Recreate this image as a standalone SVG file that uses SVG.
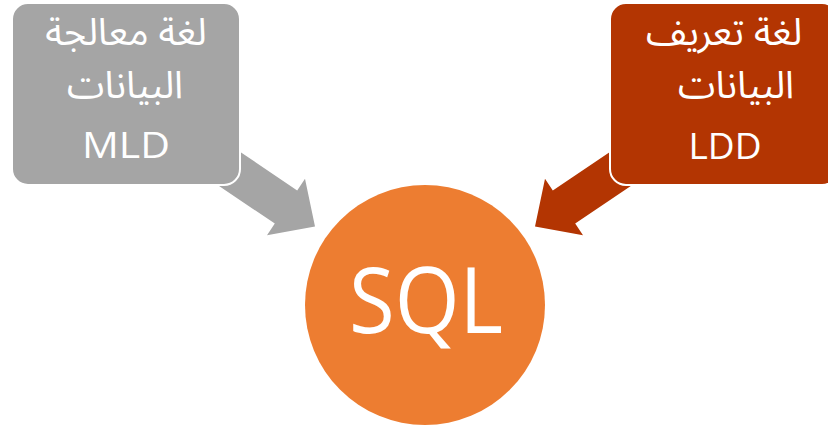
<svg xmlns="http://www.w3.org/2000/svg" width="828" height="425" viewBox="0 0 828 425">
<style>
.box{stroke:#FFFFFF;stroke-width:2}
.t{fill:#FFFFFF;text-anchor:middle}
.ar{font-family:"Noto Sans Arabic","DejaVu Sans",sans-serif;font-size:38px}
.lat{font-family:"Open Sans","Liberation Sans",sans-serif}
</style>
<rect width="828" height="425" fill="#FFFFFF"/>
<g id="connectors">
<polygon fill="#A5A5A5" points="206,128.9 297.2,190.4 305,178.8 315,226.6 267,235.2 274.8,223.6 183.6,162.1"/>
<polygon fill="#B33502" points="644,128.9 552.8,190.4 545,178.8 535,226.6 583,235.2 575.2,223.6 666.4,162.1"/>
</g>
<g id="mld">
<rect class="box" x="12" y="3" width="228" height="182" rx="16" fill="#A5A5A5"/>
<text class="t ar" x="126" y="45" direction="rtl">لغة معالجة</text>
<text class="t ar" x="125" y="98" direction="rtl">البيانات</text>
<text class="t lat" x="126" y="158" font-size="37" textLength="88" lengthAdjust="spacingAndGlyphs">MLD</text>
</g>
<g id="ldd">
<rect class="box" x="610" y="3" width="228" height="182" rx="16" fill="#B33502"/>
<text class="t ar" x="724" y="45" direction="rtl">لغة تعريف</text>
<text class="t ar" x="736" y="98" direction="rtl">البيانات</text>
<text class="t lat" x="725" y="159" font-size="37">LDD</text>
</g>
<g id="sql">
<circle cx="425" cy="305" r="120" fill="#ED7D31"/>
<text class="t lat" x="426" y="333" font-size="91" textLength="154" lengthAdjust="spacingAndGlyphs">SQL</text>
</g>
</svg>
